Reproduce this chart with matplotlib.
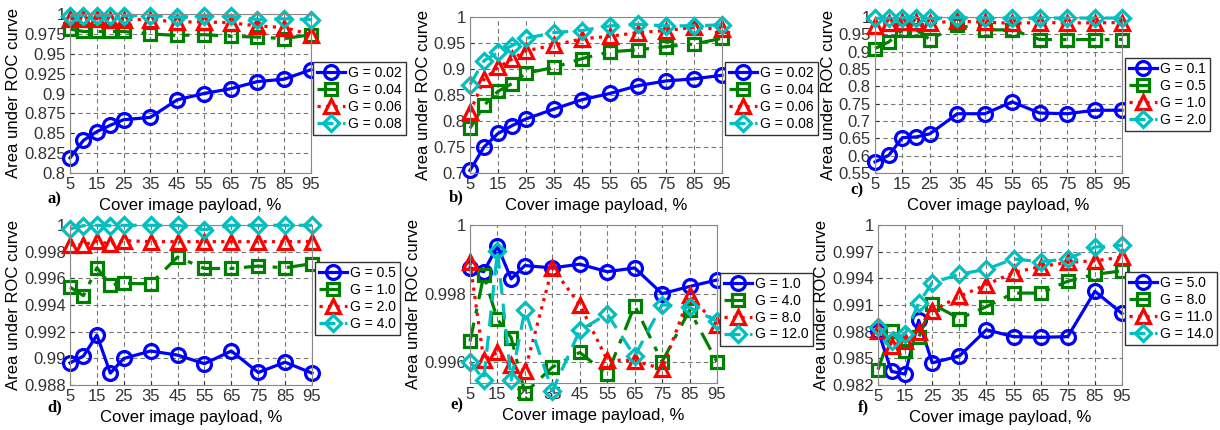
import matplotlib
matplotlib.use('Agg')
import matplotlib.pyplot as plt
from matplotlib.ticker import FuncFormatter

plt.rcParams['font.family'] = ['Liberation Sans', 'DejaVu Sans']

# x values (cover image payload, %)
payload = [5, 10, 15, 20, 25, 35, 45, 55, 65, 75, 85, 95]
xticks = [5, 15, 25, 35, 45, 55, 65, 75, 85, 95]

# a)
a_labels = ['G = 0.02', 'G = 0.04', 'G = 0.06', 'G = 0.08']
a_s1 = [0.819, 0.841, 0.852, 0.860, 0.867, 0.870, 0.892, 0.900, 0.906, 0.915, 0.918, 0.930]
a_s2 = [0.981, 0.978, 0.978, 0.978, 0.978, 0.975, 0.973, 0.974, 0.972, 0.971, 0.969, 0.974]
a_s3 = [0.994, 0.994, 0.994, 0.993, 0.993, 0.993, 0.990, 0.990, 0.989, 0.985, 0.983, 0.974]
a_s4 = [0.998, 0.998, 0.998, 0.998, 0.998, 0.998, 0.996, 0.997, 0.997, 0.993, 0.994, 0.993]

# b)
b_labels = ['G = 0.02', 'G = 0.04', 'G = 0.06', 'G = 0.08']
b_s1 = [0.705, 0.750, 0.776, 0.791, 0.804, 0.823, 0.841, 0.853, 0.868, 0.877, 0.881, 0.888]
b_s2 = [0.786, 0.830, 0.857, 0.872, 0.892, 0.903, 0.920, 0.933, 0.937, 0.943, 0.948, 0.959]
b_s3 = [0.817, 0.880, 0.903, 0.919, 0.935, 0.946, 0.958, 0.963, 0.970, 0.974, 0.980, 0.976]
b_s4 = [0.870, 0.916, 0.932, 0.945, 0.959, 0.970, 0.974, 0.983, 0.986, 0.983, 0.983, 0.985]

# c)
c_labels = ['G = 0.1', 'G = 0.5', 'G = 1.0', 'G = 2.0']
c_s1 = [0.582, 0.601, 0.652, 0.654, 0.663, 0.721, 0.721, 0.755, 0.723, 0.721, 0.731, 0.731]
c_s2 = [0.909, 0.928, 0.963, 0.963, 0.935, 0.976, 0.963, 0.963, 0.935, 0.935, 0.935, 0.935]
c_s3 = [0.975, 0.984, 0.986, 0.986, 0.983, 0.988, 0.985, 0.982, 0.984, 0.983, 0.983, 0.984]
c_s4 = [0.996, 0.997, 0.998, 0.998, 0.996, 0.998, 0.997, 0.997, 0.997, 0.997, 0.997, 0.997]

# d)
d_labels = ['G = 0.5', 'G = 1.0', 'G = 2.0', 'G = 4.0']
d_s1 = [0.98966, 0.99017, 0.99175, 0.98889, 0.98999, 0.99055, 0.99024, 0.98960, 0.99055, 0.98894, 0.98971, 0.98889]
d_s2 = [0.99534, 0.99470, 0.99679, 0.99552, 0.99562, 0.99559, 0.99760, 0.99674, 0.99674, 0.99692, 0.99679, 0.99710]
d_s3 = [0.99850, 0.99852, 0.99878, 0.99857, 0.99883, 0.99875, 0.99875, 0.99875, 0.99875, 0.99875, 0.99875, 0.99875]
d_s4 = [0.99970, 0.99995, 0.99998, 0.99995, 0.99998, 0.99998, 0.99998, 0.99964, 0.99998, 0.99998, 0.99998, 0.99998]

# e)
e_labels = ['G = 1.0', 'G = 4.0', 'G = 8.0', 'G = 12.0']
e_s1 = [0.99875, 0.99864, 0.99939, 0.99843, 0.99882, 0.99875, 0.99886, 0.99864, 0.99875, 0.99800, 0.99821, 0.99840]
e_s2 = [0.99661, 0.99853, 0.99725, 0.99672, 0.99511, 0.99586, 0.99629, 0.99565, 0.99765, 0.99602, 0.99752, 0.99602]
e_s3 = [0.99891, 0.99607, 0.99629, 0.99591, 0.99575, 0.99875, 0.99768, 0.99607, 0.99605, 0.99581, 0.99795, 0.99709]
e_s4 = [0.99602, 0.99549, 0.99923, 0.99549, 0.99752, 0.99517, 0.99693, 0.99741, 0.99618, 0.99768, 0.99760, 0.99720]

# f)
f_labels = ['G = 5.0', 'G = 8.0', 'G = 11.0', 'G = 14.0']
f_s1 = [0.98813, 0.98353, 0.98323, 0.98928, 0.98449, 0.98526, 0.98821, 0.98744, 0.98736, 0.98744, 0.99254, 0.99005]
f_s2 = [0.98372, 0.98813, 0.98583, 0.98736, 0.99112, 0.98947, 0.99081, 0.99234, 0.99234, 0.99368, 0.99445, 0.99484]
f_s3 = [0.98813, 0.98641, 0.98700, 0.98794, 0.99035, 0.99196, 0.99330, 0.99464, 0.99533, 0.99579, 0.99598, 0.99637]
f_s4 = [0.98851, 0.98698, 0.98775, 0.99120, 0.99350, 0.99445, 0.99503, 0.99618, 0.99587, 0.99618, 0.99752, 0.99771]

colors = ['#0000ff', '#008000', '#ff0000', '#00bfbf']
styles = ['-', (0, (6, 3, 1.5, 3)), ':', (0, (5, 3))]
markers = ['o', 's', '^', 'D']
msizes = [10, 9, 10, 8]

W, H = 1220, 430
fig = plt.figure(figsize=(W / 100, H / 100), dpi=100)


def panel(box, series, labels, ylim, yticks, leg_xy, letter, letter_xy):
    l, t, r, b = box
    ax = fig.add_axes([l / W, 1 - b / H, (r - l) / W, (b - t) / H])
    for i, s in enumerate(series):
        ax.plot(payload, s, color=colors[i], linestyle=styles[i], lw=2.3,
                marker=markers[i], ms=msizes[i], mfc='none', mew=2.3,
                label=labels[i], clip_on=False)
    ax.set_xlim(5, 95)
    ax.set_ylim(*ylim)
    ax.set_xticks(xticks)
    ax.set_yticks(yticks)
    ax.yaxis.set_major_formatter(FuncFormatter(lambda v, p: '{:g}'.format(round(v, 6))))
    ax.grid(True, color='#777777', linestyle=(0, (4, 3)), lw=0.8)
    ax.tick_params(direction='in', labelsize=12, length=3, pad=3, colors='#333333')
    for sp in ax.spines.values():
        sp.set_color('#888888')
    ax.set_xlabel('Cover image payload, %', fontsize=12, labelpad=4)
    ax.set_ylabel('Area under ROC curve', fontsize=12, labelpad=2)
    ax.legend(loc='upper left', bbox_to_anchor=(leg_xy[0] / W, 1 - leg_xy[1] / H),
              bbox_transform=fig.transFigure, fontsize=10, labelspacing=0.2,
              handlelength=2.0, handletextpad=0.2, borderpad=0.3, borderaxespad=0,
              fancybox=False, edgecolor='#333333', framealpha=1)
    fig.text(letter_xy[0] / W, 1 - letter_xy[1] / H, letter, fontsize=12,
             fontweight='bold', family='Liberation Serif', va='center')
    return ax


panel((70, 14, 311, 173), [a_s1, a_s2, a_s3, a_s4], a_labels, (0.8, 1.0),
      [0.8, 0.825, 0.85, 0.875, 0.9, 0.925, 0.95, 0.975, 1.0], (313, 62), 'a)', (47, 199))
panel((470, 17, 722, 173), [b_s1, b_s2, b_s3, b_s4], b_labels, (0.7, 1.0),
      [0.7, 0.75, 0.8, 0.85, 0.9, 0.95, 1.0], (725, 62), 'b)', (449, 197))
panel((875, 17, 1122, 173), [c_s1, c_s2, c_s3, c_s4], c_labels, (0.55, 1.0),
      [0.55, 0.6, 0.65, 0.7, 0.75, 0.8, 0.85, 0.9, 0.95, 1.0], (1125, 58), 'c)', (850, 190))
panel((70, 225, 312, 385), [d_s1, d_s2, d_s3, d_s4], d_labels, (0.988, 1.0),
      [0.988, 0.99, 0.992, 0.994, 0.996, 0.998, 1.0], (315, 262), 'd)', (47, 407))
panel((470, 225, 717, 383), [e_s1, e_s2, e_s3, e_s4], e_labels, (0.9954, 1.0),
      [0.996, 0.998, 1.0], (720, 273), 'e)', (450, 405))
panel((878, 225, 1122, 385), [f_s1, f_s2, f_s3, f_s4], f_labels, (0.982, 1.0),
      [0.982, 0.985, 0.988, 0.991, 0.994, 0.997, 1.0], (1125, 272), 'f)', (858, 407))

fig.savefig('out.png', dpi=100)
